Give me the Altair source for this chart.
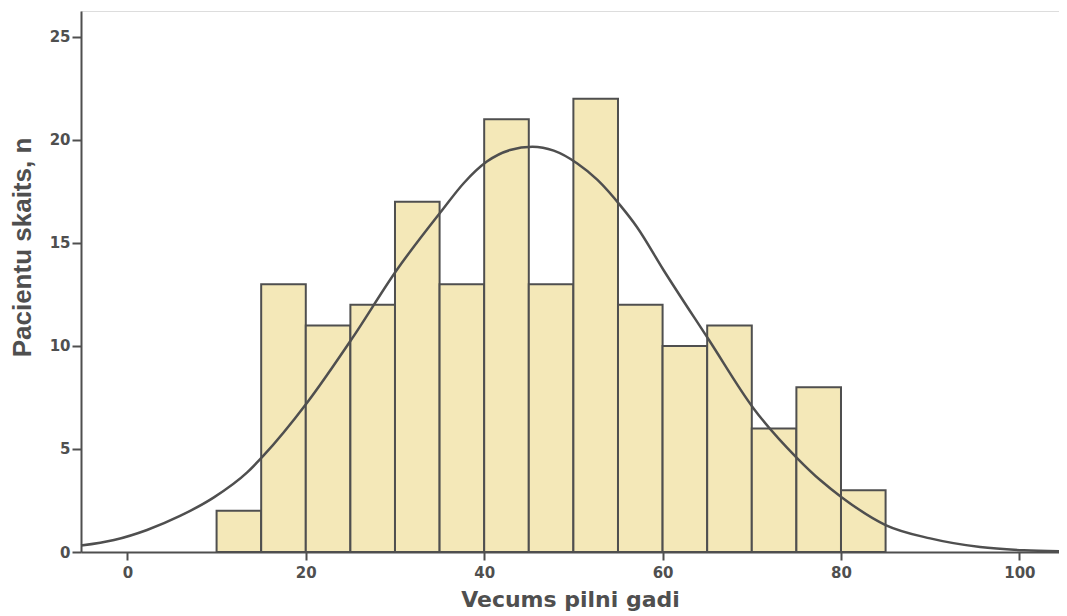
import altair as alt
import pandas as pd

# Histogram bins (age, years) and patient counts
bin_start = [10, 15, 20, 25, 30, 35, 40, 45, 50, 55, 60, 65, 70, 75, 80]
bin_end = [15, 20, 25, 30, 35, 40, 45, 50, 55, 60, 65, 70, 75, 80, 85]
counts = [2, 13, 11, 12, 17, 13, 21, 13, 22, 12, 10, 11, 6, 8, 3]

# Fitted normal curve
curve_x = [-5.2, -1.5, 2.2, 5.9, 9.7, 13.4, 15.2, 20.1, 25.2, 30.2, 35.3, 37.7,
           40.3, 42.9, 45.4, 47.8, 50.4, 52.7, 55.3, 57.1, 60.1, 65.2, 70.2,
           75.1, 77.7, 80.1, 85.0, 90.0, 95.6, 100.5, 104.5]
curve_y = [0.31, 0.58, 1.07, 1.75, 2.65, 3.85, 4.65, 7.22, 10.37, 13.69, 16.6,
           17.9, 18.95, 19.51, 19.67, 19.48, 18.87, 18.06, 16.8, 15.79, 13.69,
           10.29, 6.97, 4.55, 3.48, 2.65, 1.31, 0.66, 0.24, 0.08, 0.03]

x_ticks = [0, 20, 40, 60, 80, 100]
y_ticks = [0, 5, 10, 15, 20, 25]

bars_df = pd.DataFrame({"lo": bin_start, "hi": bin_end, "n": counts})
curve_df = pd.DataFrame({"x": curve_x, "y": curve_y})

INK = "#4f4f4f"
xscale = alt.Scale(domain=[-5.2, 104.44], nice=False, zero=False)
yscale = alt.Scale(domain=[0, 26.26], nice=False)

xaxis = alt.Axis(
    values=x_ticks, title="Vecums pilni gadi", grid=False,
    domainColor=INK, domainWidth=2, tickColor=INK, tickWidth=2, tickSize=8,
    labelFont="DejaVu Sans", labelFontSize=15, labelFontWeight="bold",
    labelColor=INK, labelPadding=5,
    titleFont="DejaVu Sans", titleFontSize=22, titleFontWeight="bold",
    titleColor=INK, titlePadding=9,
)
yaxis = alt.Axis(
    values=y_ticks, title="Pacientu skaits, n", grid=False,
    domainColor=INK, domainWidth=2, tickColor=INK, tickWidth=2, tickSize=9,
    labelFont="DejaVu Sans", labelFontSize=15, labelFontWeight="bold",
    labelColor=INK, labelPadding=2,
    titleFont="Liberation Sans", titleFontSize=26,
    titleFontWeight="bold",
    titleColor=INK, titleX=-46, titleY=236, titleAlign="center",
)

bars = alt.Chart(bars_df).mark_rect(
    fill="#F4E8B8", stroke=INK, strokeWidth=2
).encode(
    x=alt.X("lo:Q", scale=xscale, axis=xaxis),
    x2="hi:Q",
    y=alt.Y("n:Q", scale=yscale, axis=yaxis),
    y2=alt.datum(0),
)

curve = alt.Chart(curve_df).mark_line(
    color=INK, strokeWidth=2.5, interpolate="monotone"
).encode(
    x=alt.X("x:Q", scale=xscale),
    y=alt.Y("y:Q", scale=yscale),
)

chart = alt.layer(bars, curve).properties(
    width=978, height=541,
    autosize=alt.AutoSizeParams(type="none"),
    padding={"left": 73, "top": 3, "right": 0, "bottom": 63},
).configure_view(
    stroke="#707070", strokeWidth=1.5
).configure(background="white")

chart.save("out.html", embed_options={"renderer": "svg", "actions": False})
